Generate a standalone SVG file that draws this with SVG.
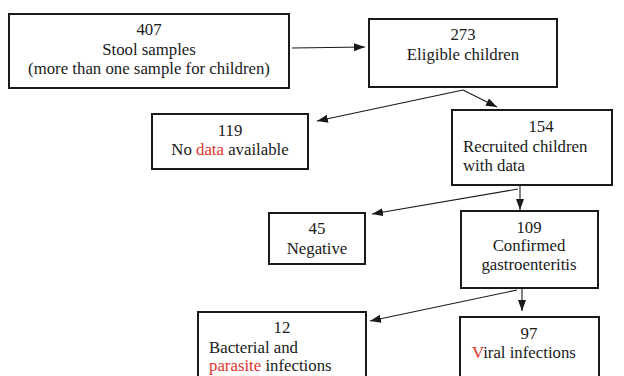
<svg xmlns="http://www.w3.org/2000/svg" width="624" height="376" viewBox="0 0 624 376" font-family="'Liberation Serif', 'Times New Roman', 'DejaVu Serif', serif">
<style>
.box{fill:#fff;stroke:#1a1a1a;stroke-width:2}
text{font-family:'Liberation Serif','Times New Roman','DejaVu Serif',serif;font-size:16.8px;fill:#1a1a1a}
.c{text-anchor:middle}
.r{fill:#e0342c}
.ln{stroke:#1a1a1a;stroke-width:1.1;fill:none;marker-end:url(#ah)}
</style>
<defs>
<marker id="ah" markerUnits="userSpaceOnUse" markerWidth="12" markerHeight="10" refX="11" refY="4" orient="auto">
<path d="M0,0 L11,4 L0,8 Z" fill="#1a1a1a"/>
</marker>
</defs>
<rect width="624" height="376" fill="#fff"/>
<g id="n407">
<rect class="box" x="9" y="14" width="280" height="74"/>
<text class="c" x="149" y="35">407</text>
<text class="c" x="149" y="55">Stool samples</text>
<text class="c" x="149" y="74">(more than one sample for children)</text>
</g>
<g id="n273">
<rect class="box" x="369" y="19" width="188" height="68"/>
<text class="c" x="463" y="40">273</text>
<text class="c" x="463" y="60">Eligible children</text>
</g>
<g id="n119">
<rect class="box" x="152" y="114" width="156" height="55"/>
<text class="c" x="230" y="136">119</text>
<text class="c" x="230" y="155">No <tspan class="r">data</tspan> available</text>
</g>
<g id="n154">
<rect class="box" x="452" y="110" width="160" height="75"/>
<text class="c" x="541" y="132">154</text>
<text x="463" y="152">Recruited children</text>
<text x="463" y="171">with data</text>
</g>
<g id="n45">
<rect class="box" x="269" y="213" width="96" height="51"/>
<text class="c" x="317" y="234">45</text>
<text class="c" x="317" y="254">Negative</text>
</g>
<g id="n109">
<rect class="box" x="461" y="211" width="137" height="77"/>
<text class="c" x="529" y="233">109</text>
<text class="c" x="529" y="251">Confirmed</text>
<text class="c" x="529" y="270">gastroenteritis</text>
</g>
<g id="n12">
<rect class="box" x="198" y="312" width="168" height="70"/>
<text class="c" x="282" y="333">12</text>
<text x="209" y="353">Bacterial and</text>
<text x="209" y="371"><tspan class="r">parasite</tspan> infections</text>
</g>
<g id="n97">
<rect class="box" x="460" y="317" width="139" height="65"/>
<text class="c" x="529" y="339">97</text>
<text x="472" y="358"><tspan class="r">V</tspan>iral infections</text>
</g>
<g id="connectors">
<line class="ln" x1="292" y1="48" x2="365" y2="47"/>
<line class="ln" x1="463" y1="90" x2="317" y2="121"/>
<line class="ln" x1="463" y1="90" x2="497" y2="107"/>
<line class="ln" x1="518" y1="189" x2="372" y2="214"/>
<line class="ln" x1="520" y1="186" x2="520" y2="210"/>
<line class="ln" x1="517" y1="290" x2="370" y2="321"/>
<line class="ln" x1="522" y1="289" x2="522" y2="311"/>
</g>
</svg>
